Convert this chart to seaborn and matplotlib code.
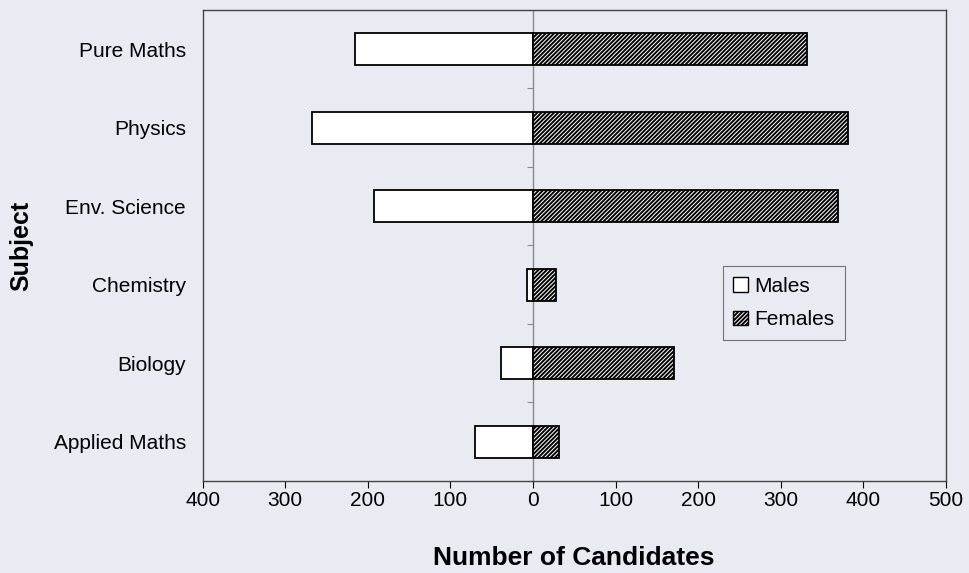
import pandas as pd
import seaborn as sns
import matplotlib.pyplot as plt
from matplotlib.ticker import FuncFormatter
from matplotlib.patches import Patch

# === data ===
subjects = ['Pure Maths', 'Physics', 'Env. Science', 'Chemistry', 'Biology', 'Applied Maths']
males = [215, 268, 193, 7, 39, 70]
females = [332, 382, 369, 28, 171, 32]

df = pd.DataFrame({'Subject': subjects, 'Males': males, 'Females': females})
df['MalesNeg'] = -df['Males']

sns.set_style('white')
plt.rcParams['font.family'] = ['Liberation Sans', 'DejaVu Sans']
plt.rcParams['hatch.linewidth'] = 1.4
for k in ['text.color', 'axes.labelcolor', 'xtick.color', 'ytick.color']:
    plt.rcParams[k] = 'black'
paper = '#e8ebf1'
hatch = '////////'

fig = plt.figure(figsize=(9.7, 5.73), dpi=100, facecolor=paper)
ax = fig.add_axes([0.209, 0.1606, 0.766, 0.822], facecolor=paper)

sns.barplot(data=df, x='MalesNeg', y='Subject', order=subjects, orient='h',
            color='white', edgecolor='black', linewidth=1.3, width=0.41, ax=ax)
sns.barplot(data=df, x='Females', y='Subject', order=subjects, orient='h',
            color='white', edgecolor='black', linewidth=1.3, width=0.41, ax=ax)
for bar in ax.patches[len(subjects):]:
    bar.set_hatch(hatch)

ax.axvline(0, color='#888888', linewidth=1, zorder=0)

ax.set_xlim(-400, 500)
ax.set_ylim(5.5, -0.5)
ax.set_xticks(range(-400, 501, 100))
ax.xaxis.set_major_formatter(FuncFormatter(lambda v, p: f'{abs(int(v))}'))
ax.tick_params(axis='x', direction='out', length=5, width=0.8, labelsize=15, pad=2, bottom=True)
ax.tick_params(axis='y', length=0, labelsize=15, pad=12)

# small ticks on the zero axis at category boundaries
sec = ax.secondary_yaxis(400 / 900)
sec.set_yticks([i - 0.5 for i in range(len(subjects) + 1)])
sec.set_yticklabels([])
sec.tick_params(direction='out', length=4, color='#888888')
sec.spines['left'].set_visible(False)

for s in ax.spines.values():
    s.set_color('#444444')
    s.set_linewidth(1)

ax.set_xlabel('Number of Candidates', fontsize=19, fontweight='bold', labelpad=26)
ax.set_ylabel('Subject', fontsize=18, fontweight='bold', labelpad=15)

handles = [Patch(facecolor='white', edgecolor='black', label='Males'),
           Patch(facecolor='white', edgecolor='black', hatch=hatch, label='Females')]
leg = ax.legend(handles=handles, loc='lower left', bbox_to_anchor=(0.70, 0.30),
                fontsize=15, frameon=True, fancybox=False, handlelength=0.7,
                handleheight=0.7, handletextpad=0.3, labelspacing=0.7,
                borderpad=0.5, borderaxespad=0)
leg.get_frame().set_edgecolor('#555555')
leg.get_frame().set_facecolor(paper)
leg.get_frame().set_linewidth(0.8)

fig.savefig('out.png', dpi=100, facecolor=paper)
